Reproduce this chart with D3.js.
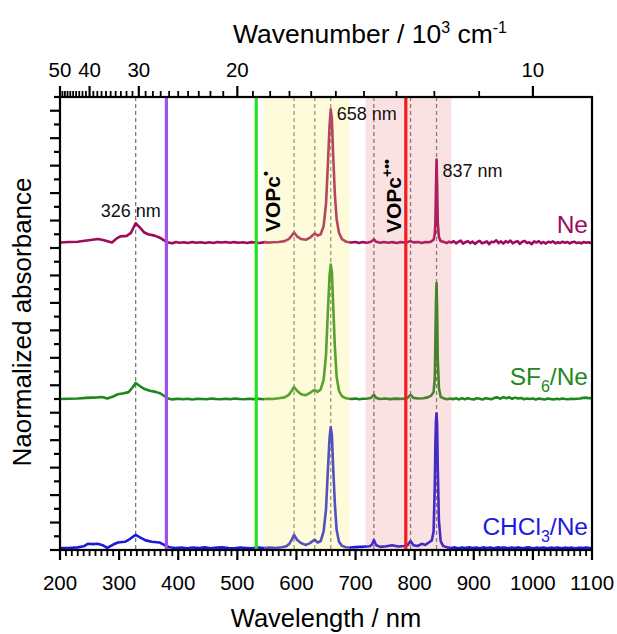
<!DOCTYPE html>
<html><head><meta charset="utf-8">
<script src="https://cdn.jsdelivr.net/npm/d3@7"></script>
<style>html,body{margin:0;padding:0;background:#fff}</style>
</head><body><svg id="chart" width="617" height="634"></svg>
<script>
// ---------- data ----------
const seriesNames = ["Ne", "SF6/Ne", "CHCl3/Ne"];
const seriesOffsets = [2.24, 1.10, 0.015];
const seriesColors = ["#9e0b5c", "#1f871c", "#1a1ade"];

const neData = [[200,0],[215,0.004],[230,0.006],[245,0.015],[255,0.02],[264,0.025],[273,0.018],[282,0.008],[288,0],[296,0.03],[302,0.045],[313,0.048],[320,0.07],[328,0.14],[335,0.11],[342,0.075],[349,0.06],[360,0.05],[369,0.035],[376,0.015],[383,0],[390,-0.006],[396,0.003],[402,-0.002],[410,0.002],[416,-0.004],[424,0.003],[430,-0.002],[438,0.002],[446,-0.003],[452,0.002],[460,-0.003],[466,0.003],[474,0.0],[480,0.004],[488,-0.002],[494,0.003],[502,-0.002],[510,0.002],[516,-0.003],[524,0.003],[530,0.0],[538,-0.003],[546,0.003],[552,-0.001],[560,0.002],[570,0.004],[580,0.01],[587,0.025],[592,0.05],[596,0.073],[601,0.045],[608,0.025],[616,0.02],[623,0.035],[628,0.055],[631,0.066],[636,0.05],[641,0.06],[646,0.12],[650,0.28],[653,0.55],[656,0.85],[658,0.97],[660,0.9],[662,0.65],[665,0.35],[668,0.17],[672,0.07],[677,0.025],[684,0.006],[692,0],[700,0.004],[706,-0.003],[712,0.003],[720,-0.002],[726,0.006],[731,0.022],[735,0.005],[742,-0.002],[748,0.004],[756,-0.002],[762,0.003],[770,-0.003],[776,0.003],[782,0.0],[788,0.003],[793,0.01],[798,0.001],[806,0.004],[812,-0.003],[818,0.003],[824,0.002],[828,0.008],[832,0.02],[834,0.06],[835,0.14],[836,0.38],[837,0.605],[838,0.42],[839,0.15],[841,0.04],[844,0.01],[850,0.004],[854,-0.004],[858,0.006],[862,0.0],[866,0.01],[870,-0.006],[874,0.004],[878,0.014],[882,-0.008],[886,0.002],[890,0.01],[894,-0.004],[898,0.006],[902,-0.01],[906,0.004],[910,0.012],[914,-0.006],[918,0.0],[922,0.008],[926,-0.012],[930,0.006],[934,0.002],[938,0.016],[942,-0.004],[946,0.008],[950,-0.008],[954,0.01],[958,0.0],[962,0.014],[966,-0.006],[970,0.004],[974,0.01],[978,-0.01],[982,0.006],[986,0.012],[990,-0.004],[994,0.002],[998,-0.012],[1002,0.008],[1006,0.0],[1010,0.01],[1014,-0.006],[1018,0.004],[1022,-0.008],[1026,0.006],[1030,0.0],[1034,0.008],[1038,-0.006],[1042,0.002],[1046,-0.004],[1050,0.006],[1054,-0.002],[1058,0.004],[1062,-0.006],[1066,0.002],[1070,0.006],[1074,-0.004],[1078,0.0],[1082,-0.006],[1086,0.004],[1090,-0.002],[1094,0.002],[1098,-0.004],[1100,0]];

const sf6Data = [[200,0],[215,0.002],[230,0.004],[245,0.008],[255,0.01],[264,0.012],[271,0.015],[280,0.004],[290,0.018],[298,0.035],[308,0.042],[316,0.05],[322,0.08],[328,0.117],[335,0.095],[343,0.072],[352,0.06],[362,0.052],[370,0.04],[377,0.02],[383,0.004],[390,-0.003],[400,0.002],[408,-0.002],[416,0.002],[424,-0.003],[432,0.002],[440,0.0],[448,-0.002],[456,0.003],[464,0.0],[472,-0.002],[480,0.002],[488,-0.002],[496,0.003],[504,0.0],[512,-0.002],[520,0.002],[528,-0.001],[536,0.002],[544,-0.002],[552,0.002],[560,0.0],[570,0.005],[580,0.012],[587,0.03],[592,0.06],[596,0.087],[601,0.06],[608,0.035],[616,0.028],[623,0.045],[628,0.06],[631,0.066],[636,0.052],[641,0.07],[646,0.14],[650,0.32],[653,0.62],[656,0.9],[658,0.98],[660,0.92],[662,0.7],[665,0.38],[668,0.16],[672,0.06],[677,0.02],[684,0.005],[692,0],[700,0.003],[706,-0.002],[712,0.002],[720,0.003],[726,0.008],[731,0.03],[735,0.008],[742,0.0],[750,0.004],[758,-0.001],[766,0.003],[774,0.001],[782,0.003],[788,0.008],[793,0.03],[798,0.008],[806,0.004],[815,0.006],[822,0.012],[828,0.025],[832,0.05],[834,0.15],[835,0.4],[836,0.7],[837,0.845],[838,0.65],[839,0.3],[841,0.08],[844,0.015],[850,0.004],[855,-0.002],[860,0.004],[865,-0.001],[870,0.005],[875,-0.003],[880,0.006],[885,-0.002],[890,0.005],[895,0.0],[900,-0.004],[905,0.006],[910,0.002],[915,-0.004],[920,0.006],[925,0.002],[930,-0.002],[935,0.008],[940,0.012],[945,0.002],[950,0.014],[955,0.005],[960,0.012],[965,0.002],[970,0.01],[975,0.003],[980,0.008],[985,-0.002],[990,0.004],[995,0.0],[1000,0.004],[1005,-0.003],[1010,0.003],[1015,0.0],[1020,-0.004],[1025,0.003],[1030,0.0],[1035,-0.003],[1040,0.002],[1045,-0.002],[1050,0.003],[1055,0.0],[1060,-0.002],[1065,0.002],[1070,0.0],[1075,0.002],[1080,0.004],[1085,0.008],[1090,0.01],[1095,0.006],[1100,0.008]];

const chcl3Data = [[200,0],[215,0.0],[230,0.004],[240,0.012],[247,0.03],[256,0.028],[264,0.03],[272,0.02],[280,0.0],[290,0.025],[298,0.04],[310,0.045],[318,0.065],[328,0.095],[336,0.075],[345,0.055],[355,0.045],[368,0.04],[377,0.02],[385,0.005],[395,0.0],[405,0.002],[415,-0.002],[425,0.003],[435,0.0],[445,0.004],[455,-0.002],[465,0.002],[475,0.004],[485,0.0],[495,-0.002],[505,0.002],[515,0.0],[525,-0.002],[535,0.002],[545,0.0],[555,0.002],[565,0.0],[575,0.005],[583,0.012],[588,0.03],[592,0.06],[596,0.095],[601,0.06],[608,0.035],[616,0.022],[623,0.035],[628,0.052],[631,0.058],[636,0.04],[641,0.05],[646,0.12],[650,0.28],[653,0.55],[656,0.8],[658,0.88],[660,0.82],[662,0.6],[665,0.32],[668,0.13],[672,0.045],[677,0.015],[684,0.005],[692,0.003],[700,0.006],[710,0.008],[718,0.01],[724,0.012],[728,0.025],[731,0.058],[735,0.02],[742,0.008],[752,0.012],[762,0.02],[772,0.01],[782,0.014],[788,0.02],[793,0.05],[798,0.02],[805,0.014],[812,0.03],[818,0.022],[824,0.04],[829,0.055],[832,0.12],[834,0.45],[835,0.75],[836,0.93],[837,0.98],[838,0.9],[839,0.6],[841,0.2],[844,0.05],[848,0.015],[855,0.004],[862,0.0],[868,0.004],[874,-0.002],[880,0.003],[886,-0.001],[892,0.004],[898,0.0],[904,0.003],[910,-0.002],[916,0.004],[922,0.0],[928,0.003],[934,-0.002],[940,0.004],[946,0.001],[952,0.003],[958,-0.002],[964,0.003],[970,0.0],[976,0.004],[982,-0.002],[988,0.002],[994,0.004],[1000,-0.002],[1006,0.002],[1012,0.0],[1018,0.003],[1024,-0.002],[1030,0.002],[1036,0.0],[1042,0.003],[1048,-0.002],[1054,0.002],[1060,0.0],[1066,0.002],[1072,-0.002],[1078,0.002],[1084,0.0],[1090,0.002],[1096,-0.001],[1100,0.0]];

const seriesData = [neData, sf6Data, chcl3Data];

const wavelengthTickLabels = [200, 300, 400, 500, 600, 700, 800, 900, 1000, 1100];
const wavenumberTickLabels = [10, 20, 30, 40, 50];
const dashedLines = [328, 596, 631, 658, 731, 793, 837];
const laserLines = [380, 532, 785];
const laserColors = ["#9b52ee", "#22e41e", "#f41c1c"];
const bands = [[545, 690], [717, 862]];
const bandColors = ["rgb(248,240,110)", "rgb(236,108,108)"];
const peakLabels = [["326 nm", 328, 0.14], ["658 nm", 658, 0.97], ["837 nm", 837, 0.605]];

// ---------- layout ----------
const svg = d3.select("#chart");
const L = 60, R = 592, T = 97, B = 550;
const x = d3.scaleLinear().domain([200, 1100]).range([L, R]);
const y = d3.scaleLinear().domain([0, 3.3]).range([B, T]);
const font = "'Liberation Sans', Arial, sans-serif";

// dashed guide lines
svg.append("g").selectAll("line").data(dashedLines).join("line")
  .attr("x1", d => x(d)).attr("x2", d => x(d))
  .attr("y1", T).attr("y2", B)
  .attr("stroke", "#7a7a7a").attr("stroke-width", 1.3)
  .attr("stroke-dasharray", "4,3");

// traces
const line = d3.line().x(d => x(d[0]));
seriesData.forEach((data, i) => {
  svg.append("path")
    .attr("d", line.y(d => y(d[1] + seriesOffsets[i]))(data))
    .attr("fill", "none")
    .attr("stroke", seriesColors[i])
    .attr("stroke-width", 2.6)
    .attr("stroke-linejoin", "round");
});

// shaded bands (drawn over traces, translucent)
svg.append("g").selectAll("rect").data(bands).join("rect")
  .attr("x", d => x(d[0])).attr("width", d => x(d[1]) - x(d[0]))
  .attr("y", T).attr("height", B - T)
  .attr("fill", (d, i) => bandColors[i])
  .attr("fill-opacity", (d, i) => i === 0 ? 0.26 : 0.2);

// laser lines
svg.append("g").selectAll("line").data(laserLines).join("line")
  .attr("x1", d => x(d)).attr("x2", d => x(d))
  .attr("y1", T).attr("y2", B)
  .attr("stroke", (d, i) => laserColors[i]).attr("stroke-width", 3.2);

// frame
svg.append("rect").attr("x", L).attr("y", T).attr("width", R - L).attr("height", B - T)
  .attr("fill", "none").attr("stroke", "#000").attr("stroke-width", 2.2);

// bottom axis
const minorX = d3.range(200, 1101, 10);
svg.append("g").selectAll("line").data(minorX).join("line")
  .attr("x1", d => x(d)).attr("x2", d => x(d))
  .attr("y1", B).attr("y2", d => B + (d % 100 === 0 ? 10 : 6))
  .attr("stroke", "#000").attr("stroke-width", d => d % 100 === 0 ? 2.2 : 1.8);
svg.append("g").selectAll("text").data(wavelengthTickLabels).join("text")
  .attr("x", d => x(d)).attr("y", 590)
  .attr("text-anchor", "middle").attr("font-family", font).attr("font-size", 20.5)
  .text(d => d);
svg.append("text").attr("x", (L + R) / 2).attr("y", 627)
  .attr("text-anchor", "middle").attr("font-family", font).attr("font-size", 25.5)
  .text("Wavelength / nm");

// top axis (wavenumber, 10^3 cm^-1 -> nm = 1e4 / v)
const wn = d3.range(10, 51, 1);
svg.append("g").selectAll("line").data(wn).join("line")
  .attr("x1", d => x(1e4 / d)).attr("x2", d => x(1e4 / d))
  .attr("y1", T).attr("y2", d => T - (d % 10 === 0 ? 11 : 6))
  .attr("stroke", "#000").attr("stroke-width", d => d % 10 === 0 ? 2.2 : 1.8);
svg.append("g").selectAll("text").data(wavenumberTickLabels).join("text")
  .attr("x", d => x(1e4 / d)).attr("y", 77)
  .attr("text-anchor", "middle").attr("font-family", font).attr("font-size", 20.5)
  .text(d => d);
const tt = svg.append("text").attr("x", 370).attr("y", 43)
  .attr("text-anchor", "middle").attr("font-family", font).attr("font-size", 26.5);
tt.append("tspan").text("Wavenumber / 10");
tt.append("tspan").attr("dy", -10).attr("font-size", 16).text("3");
tt.append("tspan").attr("dy", 10).text(" cm");
tt.append("tspan").attr("dy", -10).attr("font-size", 16).text("-1");

// left axis ticks
const yt = d3.range(0, 34).map(k => k / 10);
svg.append("g").selectAll("line").data(yt).join("line")
  .attr("x1", L).attr("x2", (d, k) => L - (k % 2 === 0 ? 10 : 6))
  .attr("y1", d => y(d)).attr("y2", d => y(d))
  .attr("stroke", "#000").attr("stroke-width", 2.2);
svg.append("text").attr("transform", "translate(31,322) rotate(-90)")
  .attr("text-anchor", "middle").attr("font-family", font).attr("font-size", 26)
  .text("Naormalized absorbance");

// peak labels
const peakDx = [-35, 6, 6], peakDy = [-6, 11, 18];
svg.append("g").selectAll("text").data(peakLabels).join("text")
  .attr("x", (d, i) => x(d[1]) + peakDx[i])
  .attr("y", (d, i) => y(d[2] + seriesOffsets[0]) + peakDy[i])
  .attr("font-family", font).attr("font-size", 18).attr("fill", "#111")
  .text(d => d[0]);

// VOPc labels
function vlabel(xp, yp, sup) {
  const t = svg.append("text").attr("transform", `translate(${xp},${yp}) rotate(-90)`)
    .attr("font-family", font).attr("font-size", 21).attr("font-weight", "bold");
  t.append("tspan").text("VOPc");
  t.append("tspan").attr("dy", -9).attr("font-size", 14).text(sup);
}
vlabel(280, 232, "\u2022");
vlabel(401, 233, "+\u2022\u2022");

// series labels
const labY = [233, 385, 535];
seriesNames.forEach((n, i) => {
  const t = svg.append("text").attr("x", 588).attr("y", labY[i])
    .attr("text-anchor", "end").attr("font-family", font).attr("font-size", 24.5)
    .attr("fill", seriesColors[i]);
  const m = n.match(/^([A-Za-z]+)(\d)?(\/Ne)?$/);
  if (m[2]) {
    t.append("tspan").text(m[1]);
    t.append("tspan").attr("dy", 7).attr("font-size", 16).text(m[2]);
    t.append("tspan").attr("dy", -7).text(m[3]);
  } else {
    t.text(n);
  }
});
</script></body></html>
